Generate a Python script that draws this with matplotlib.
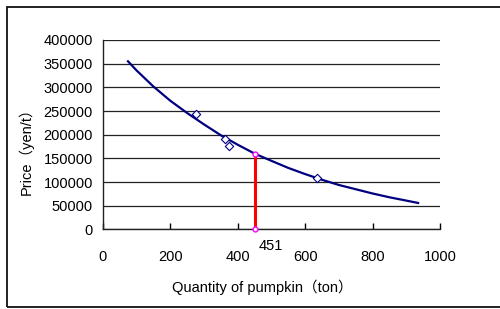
import matplotlib
matplotlib.use("Agg")
import matplotlib.pyplot as plt
from matplotlib.patches import Rectangle

# fitted demand curve
curve_qty = [75, 100, 150, 200, 250, 300, 350, 400, 451, 500, 550, 600,
             650, 700, 750, 800, 850, 900, 935]
curve_price = [355000, 336000, 302000, 272000, 246000, 222000, 199000, 179000,
               160000, 145000, 130000, 117000, 105000, 94000, 85000, 76000,
               68000, 61000, 56000]

# observed points
obs_qty = [277, 362, 375, 635]
obs_price = [243500, 190500, 176500, 108000]

# equilibrium marker
eq_qty = 451
eq_price = 160000

x_ticks = [0, 200, 400, 600, 800, 1000]
y_ticks = [0, 50000, 100000, 150000, 200000, 250000, 300000, 350000, 400000]

plt.rcParams['font.family'] = ['Liberation Sans', 'Noto Sans CJK JP', 'DejaVu Sans']

fig = plt.figure(figsize=(5, 3.09), dpi=100)
ax = fig.add_axes([0.2054, 0.2573, 0.6746, 0.6133])

ax.plot(curve_qty, curve_price, color='#000080', linewidth=1.6, zorder=3)
ax.scatter(obs_qty, obs_price, marker='D', s=18, facecolors='white',
           edgecolors='#000080', linewidths=0.8, zorder=4)

ax.plot([eq_qty, eq_qty], [0, eq_price], color='red', linewidth=2.2, zorder=5)
ax.plot([eq_qty, eq_qty], [0, eq_price], linestyle='none', marker='o',
        markersize=3.5, markerfacecolor='white', markeredgecolor='magenta',
        markeredgewidth=1.0, zorder=6, clip_on=False)
ax.text(eq_qty + 10, -20000, str(eq_qty), fontsize=10.5, ha='left', va='top')

ax.set_xlim(0, 1000)
ax.set_ylim(0, 400000)
ax.set_xticks(x_ticks)
ax.set_yticks(y_ticks)
ax.set_xticklabels([str(t) for t in x_ticks], fontsize=10.5)
ax.set_yticklabels([str(t) for t in y_ticks], fontsize=10.5)
ax.tick_params(axis='x', direction='in', length=4, width=1, pad=15)
ax.tick_params(axis='y', length=0, pad=7)

ax.grid(axis='y', color='#222222', linewidth=0.9)
ax.set_axisbelow(True)
for s in ['top', 'right']:
    ax.spines[s].set_visible(False)
for s in ['left', 'bottom']:
    ax.spines[s].set_color('#222222')
    ax.spines[s].set_linewidth(1.0)

ax.set_xlabel('Quantity of pumpkin（ton）', fontsize=10.5)
ax.xaxis.set_label_coords((262 - 102.7) / 337.3, -0.265)
ax.set_ylabel('Price（yen/t）', fontsize=10.5)
ax.yaxis.set_label_coords(-0.204, 0.43)

# outer chart-area frame (runs off the right edge in the original)
frame = Rectangle((0.014, 0.008), 1.2, 0.969, transform=fig.transFigure,
                  fill=False, edgecolor='#111111', linewidth=1.3)
fig.patches.append(frame)

fig.savefig('out.png', dpi=100)
